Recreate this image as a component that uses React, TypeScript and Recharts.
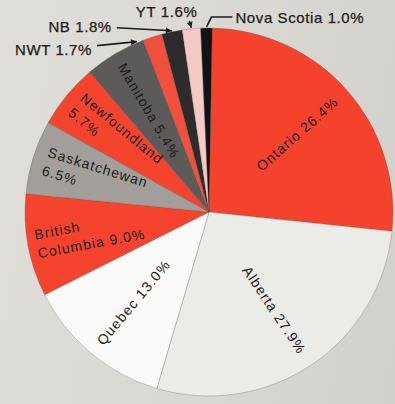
import { PieChart, Pie, Cell } from "recharts";

const provinces = [
  "Ontario",
  "Alberta",
  "Quebec",
  "British Columbia",
  "Saskatchewan",
  "Newfoundland",
  "Manitoba",
  "NWT",
  "NB",
  "YT",
  "Nova Scotia",
];
const shares = [26.4, 27.9, 13.0, 9.0, 6.5, 5.7, 5.4, 1.7, 1.8, 1.6, 1.0];
const sliceColors = [
  "#f5422d",
  "#ebebe8",
  "#fafaf9",
  "#f6432d",
  "#a29f9b",
  "#f4442d",
  "#5d5b59",
  "#f2503d",
  "#2d2b2b",
  "#f3cac6",
  "#131313",
];

const data = provinces.map((name, i) => ({ name, value: shares[i] }));

const RAD = Math.PI / 180;
const FONT = "'Liberation Sans', Arial, Helvetica, sans-serif";

// where a label breaks onto a second line
const splitLabel = (name: string, value: number) => {
  const pct = `${value.toFixed(1)}%`;
  if (name === "British Columbia") return ["British", `Columbia ${pct}`];
  if (name === "Saskatchewan" || name === "Newfoundland") return [name, pct];
  return [`${name} ${pct}`];
};

// small slices get an outside label with a leader; offsets are relative to the tip
type Callout = {
  shift: number;
  text: [number, number];
  anchor: "start" | "end";
  path: [number, number][];
  arrow: boolean;
};
const callouts: Record<string, Callout> = {
  NWT: { shift: -5, text: [-45, 8], anchor: "end", path: [[-40, 4]], arrow: true },
  NB: { shift: 0, text: [-60, -4], anchor: "end", path: [[-55, -3]], arrow: true },
  YT: { shift: 0, text: [6, -16], anchor: "end", path: [[-2, -7]], arrow: true },
  "Nova Scotia": { shift: 0, text: [29, -10], anchor: "start", path: [[26, -10], [5, -10]], arrow: false },
};

const renderLabel = (props: any) => {
  const { cx, cy, midAngle, outerRadius, name, value } = props;
  const ink = "#1d1a1a";
  const c = callouts[name];
  if (c) {
    const a = (midAngle - c.shift) * RAD;
    const tx = cx + (outerRadius + 1) * Math.cos(-a);
    const ty = cy + (outerRadius + 1) * Math.sin(-a);
    const pts = [...c.path.map(([dx, dy]) => [tx + dx, ty + dy]), [tx, ty]];
    const [px, py] = pts[pts.length - 2];
    const ang = Math.atan2(ty - py, tx - px);
    const hl = 6;
    const hw = 3;
    const bx = tx - hl * Math.cos(ang);
    const by = ty - hl * Math.sin(ang);
    const head = `${tx},${ty} ${bx - hw * Math.sin(ang)},${by + hw * Math.cos(ang)} ${bx + hw * Math.sin(ang)},${by - hw * Math.cos(ang)}`;
    return (
      <g>
        <polyline
          points={pts.map((p) => p.join(",")).join(" ")}
          fill="none"
          stroke={ink}
          strokeWidth={1.6}
        />
        {c.arrow && <polygon points={head} fill={ink} />}
        <text
          x={tx + c.text[0]}
          y={ty + c.text[1]}
          textAnchor={c.anchor}
          dominantBaseline="central"
          fontFamily={FONT}
          fontSize={15}
          letterSpacing={0.6}
          fill={ink}
          stroke={ink}
          strokeWidth={0.25}
        >
          {`${name} ${value.toFixed(1)}%`}
        </text>
      </g>
    );
  }
  const r = outerRadius * 0.64;
  const x = cx + r * Math.cos(-midAngle * RAD);
  const y = cy + r * Math.sin(-midAngle * RAD);
  const onLeft = Math.cos(midAngle * RAD) < 0;
  const rot = onLeft ? 180 - midAngle : -midAngle;
  const lines = splitLabel(name, value);
  const lh = 19;
  const est = (s: string) => s.length * 14 * 0.56 + s.length * 1.1;
  const w = Math.max(...lines.map(est));
  const multi = lines.length > 1;
  return (
    <g transform={`translate(${x},${y}) rotate(${rot})`}>
      <text
        textAnchor={multi ? "start" : "middle"}
        dominantBaseline="central"
        fontFamily={FONT}
        fontSize={14}
        letterSpacing={1.1}
        fill={ink}
      >
        {lines.map((l, i) => (
          <tspan key={i} x={multi ? -w / 2 : 0} y={(i - (lines.length - 1) / 2) * lh}>
            {l}
          </tspan>
        ))}
      </text>
    </g>
  );
};

export default function App() {
  return (
    <div
      style={{
        position: "absolute",
        left: 0,
        top: 0,
        width: 395,
        height: 404,
        background: "linear-gradient(100deg, #e0ded9 0%, #d9d7d2 60%, #d2d0cb 100%)",
      }}
    >
      <PieChart width={395} height={404} margin={{ top: 0, right: 0, bottom: 0, left: 0 }}>
        <Pie
          data={data}
          dataKey="value"
          nameKey="name"
          cx={209}
          cy={212}
          outerRadius={184}
          startAngle={89}
          endAngle={-271}
          stroke="rgba(90,75,70,0.45)"
          strokeWidth={0.6}
          label={renderLabel}
          labelLine={false}
          isAnimationActive={false}
        >
          {data.map((d, i) => (
            <Cell key={d.name} fill={sliceColors[i]} />
          ))}
        </Pie>
      </PieChart>
    </div>
  );
}
